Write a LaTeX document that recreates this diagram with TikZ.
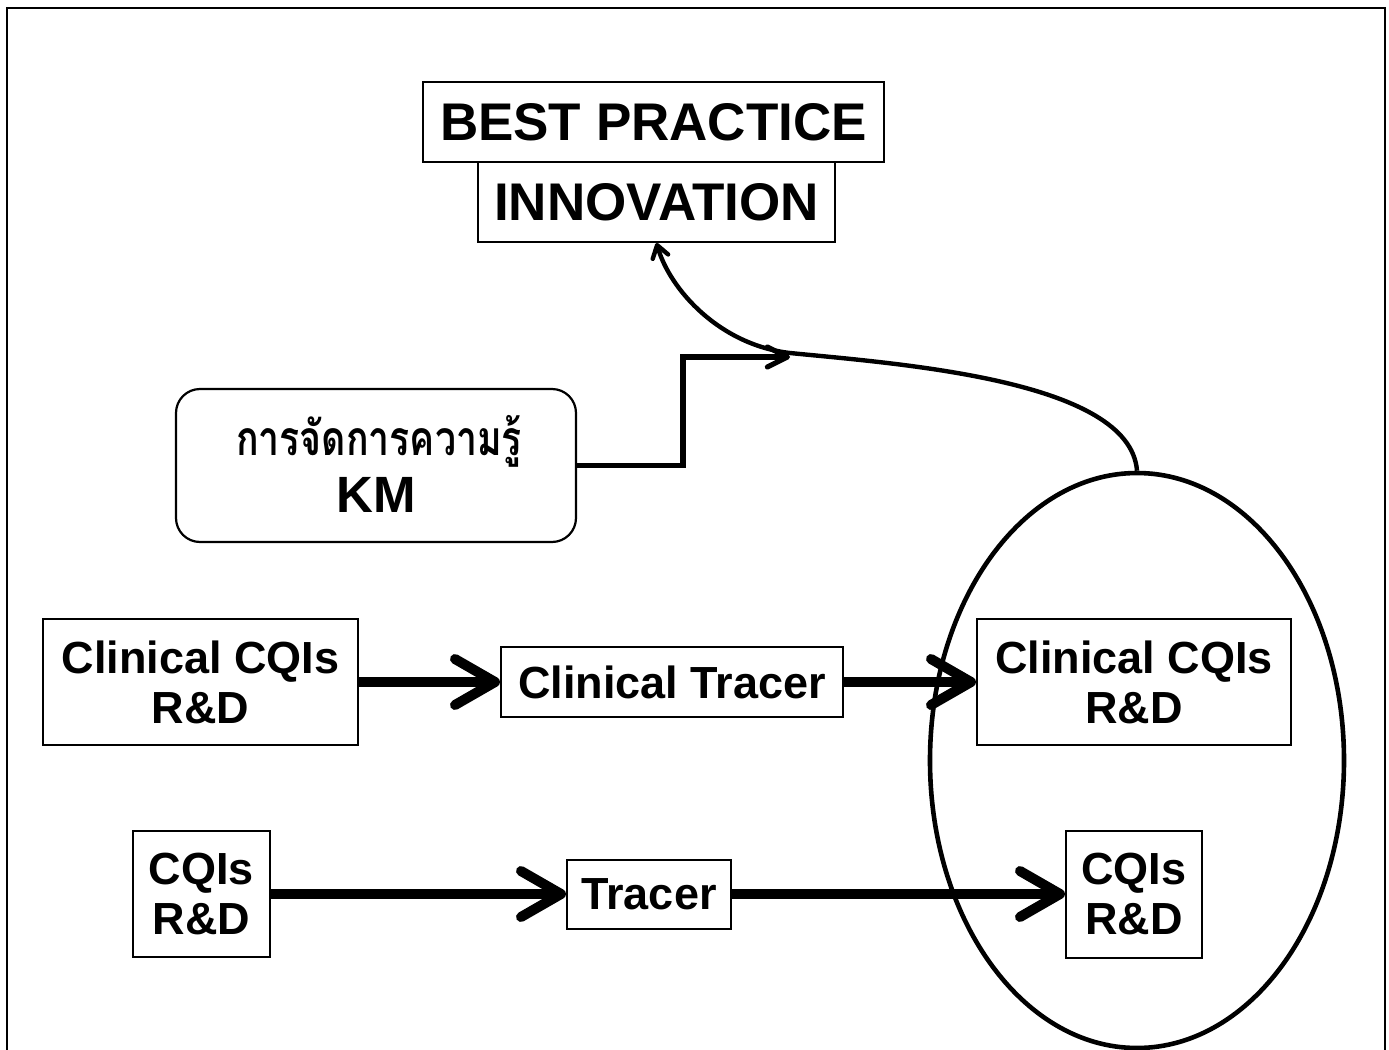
\documentclass[tikz,border=0pt]{standalone}
\usepackage{fontspec}
\setmainfont{Liberation Sans}
\newfontfamily\thaifont[Script=Thai]{Loma}
\usetikzlibrary{shapes.geometric,arrows.meta}

\begin{document}
\begin{tikzpicture}[x=0.5pt,y=-0.5pt,
  box/.style={draw, line width=1pt, inner sep=0pt, align=center,
    font=\bfseries\fontsize{22.5}{25}\selectfont},
  bigbox/.style={draw, line width=1pt, inner sep=0pt, fill=white,
    font=\bfseries\fontsize{26.5}{30}\selectfont},
  kmbox/.style={draw, line width=1.1pt, rounded corners=12pt, inner sep=0pt,
    minimum width=200pt, minimum height=76.5pt},
  cloud/.style={draw, ellipse, line width=2.3pt, inner sep=0pt,
    minimum width=207pt, minimum height=287.5pt},
  flow/.style={line width=5pt,
    -{Straight Barb[length=20pt,width=23pt,round]}},
  kmflow/.style={line width=2.6pt,
    -{Straight Barb[length=10pt,width=10pt,round]}},
  upflow/.style={line width=2.2pt,
    -{Straight Barb[length=6pt,width=8pt,round]}},
]
\useasboundingbox (0,0) rectangle (1389,1050);

% outer frame (open at the bottom)
\draw[line width=1pt] (7,1060) -- (7,8) -- (1385,8) -- (1385,1060);

% grouping ellipse on the right
\node[cloud] (ell) at (1137,760.5) {};

% top boxes
\node[bigbox, minimum width=230.5pt, minimum height=40pt] (bp) at (653.5,122) {BEST PRACTICE};
\node[bigbox, minimum width=178.5pt, minimum height=40pt] (inn) at (656.5,202) {INNOVATION};

% knowledge management box
\node[kmbox] (km) at (376,465.5) {};
\node[anchor=base, inner sep=0pt] (kmth) at (379,455)
  {\scalebox{0.78}[1]{\thaifont\bfseries\fontsize{24}{28}\selectfont การจัดการความรู้}};
\node[anchor=base, inner sep=0pt] (kmkm) at (376,512) {\bfseries\fontsize{25.5}{30}\selectfont KM};

% clinical row
\node[box, minimum width=157.5pt, minimum height=63pt] (ccl) at (200.5,682) {Clinical CQIs\\R\&D};
\node[box, minimum width=171pt, minimum height=35pt] (ctr) at (672,682) {Clinical Tracer};
\node[box, minimum width=157pt, minimum height=63pt] (ccr) at (1134,682) {Clinical CQIs\\R\&D};

% general row
\node[box, minimum width=68.5pt, minimum height=63pt] (cql) at (201.5,894) {CQIs\\R\&D};
\node[box, minimum width=82pt, minimum height=34.5pt] (trc) at (649,894) {Tracer};
\node[box, minimum width=68pt, minimum height=63.5pt] (cqr) at (1134,894) {CQIs\\R\&D};

% flows
\draw[flow] (ccl.east) -- (ctr.west);
\draw[flow] (ctr.east) -- (ccr.west);
\draw[flow] (cql.east) -- (trc.west);
\draw[flow] (trc.east) -- (cqr.west);

\coordinate (kmtip) at (790,357);
\draw[kmflow] (km.east) -- (683,465.5) |- (kmtip);

\draw[upflow] (ell.north) .. controls (1130,380) and (900,364) .. (790,353)
  .. controls (720,345) and (670,290) .. (inn.south);
\end{tikzpicture}
\end{document}
